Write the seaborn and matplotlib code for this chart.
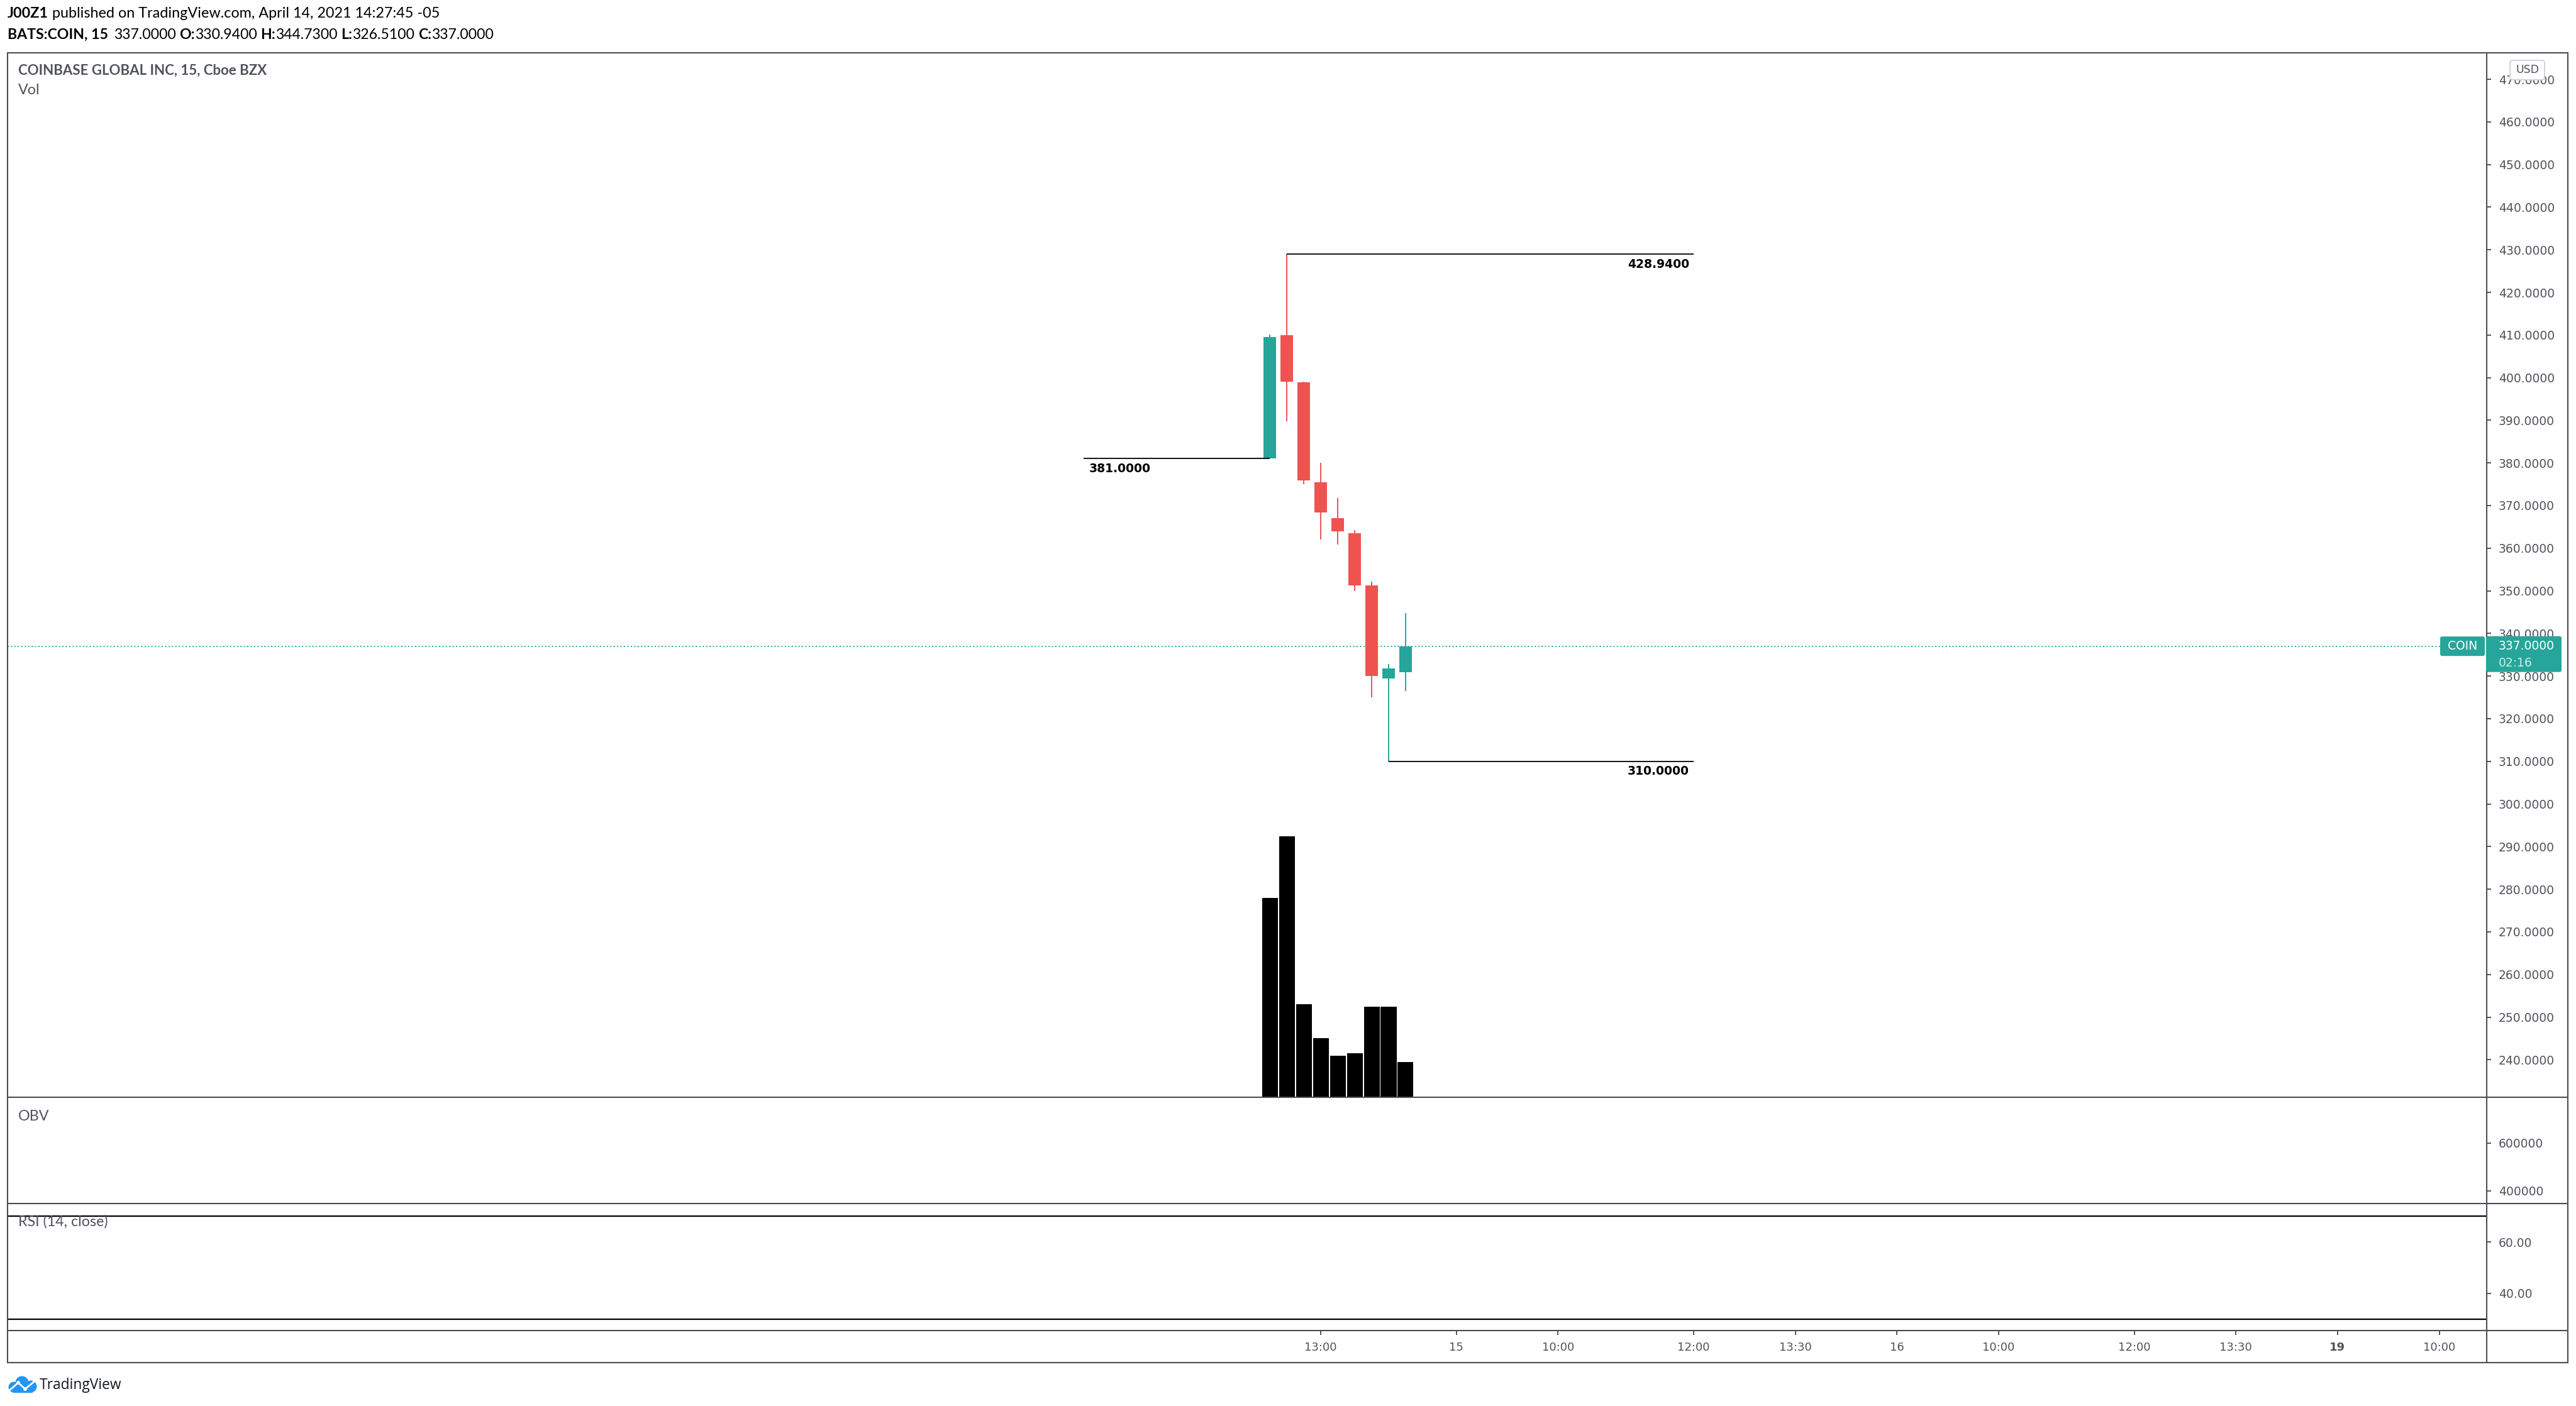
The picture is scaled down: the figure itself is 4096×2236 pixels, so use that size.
import matplotlib
matplotlib.use("Agg")
import matplotlib.pyplot as plt
import seaborn as sns
import numpy as np
from matplotlib.lines import Line2D
from matplotlib.patches import Rectangle, FancyBboxPatch, Circle
from matplotlib.transforms import IdentityTransform
from matplotlib.ticker import FuncFormatter

# ---------------- data ----------------
bar_index = [0, 1, 2, 3, 4, 5, 6, 7, 8]          # 15-min bars from 12:15 (UTC-5)
opens  = [381.00, 410.00, 398.90, 375.40, 367.00, 363.50, 351.30, 329.50, 330.94]
highs  = [410.10, 428.94, 399.00, 380.00, 371.80, 364.30, 352.10, 332.90, 344.73]
lows   = [381.00, 389.80, 375.00, 362.00, 360.90, 350.00, 325.00, 310.00, 326.51]
closes = [409.60, 399.00, 375.90, 368.40, 364.00, 351.20, 330.00, 331.80, 337.00]
volumes = [610000, 800000, 285000, 181000, 127000, 135000, 278000, 278000, 108000]

level_values = [381.00, 428.94, 310.00]
level_start = [-11, 1, 7]
level_end = [0, 25, 25]
level_align = ["left", "right", "right"]

price_ticks = list(range(240, 471, 10))
obv_ticks = [400000, 600000]
rsi_ticks = [40, 60]
rsi_bands = [70, 30]
time_tick_index = [3, 11, 17, 25, 31, 37, 43, 51, 57, 63, 69]
time_tick_labels = ["13:00", "15", "10:00", "12:00", "13:30", "16",
                    "10:00", "12:00", "13:30", "19", "10:00"]
bold_time_labels = ["19"]
countdown = "02:16"
symbol = "COIN"

# ---------------- style ----------------
GREEN = "#26a69a"
RED = "#ef5350"
AXC = "#50535e"
LINEC = "#4a4d57"

sns.set_theme(style="white")
plt.rcParams["font.family"] = ["DejaVu Sans"]

W, H = 4096, 2236
fig = plt.figure(figsize=(W / 100, H / 100), dpi=100, facecolor="white")

L, RP, R = 12, 3954, 4083
TOP, MB, OB, RB, BOT = 84, 1745, 1914, 2116, 2167


def add_axes_px(x0, y0, x1, y1):
    return fig.add_axes([x0 / W, 1 - y1 / H, (x1 - x0) / W, (y1 - y0) / H])


ax = add_axes_px(L, TOP, RP, MB)
ax_obv = add_axes_px(L, MB, RP, OB)
ax_rsi = add_axes_px(L, OB, RP, RB)

# volume (seaborn) on twin axis behind candles
vax = ax.twinx()
sns.barplot(x=bar_index, y=volumes, native_scale=True, color="black",
            saturation=1, width=0.93, linewidth=0, errorbar=None, ax=vax)
vax.set_ylim(0, max(volumes) * 4.0)
vax.set_yticks([])
vax.set_xlabel("")
vax.set_ylabel("")
vax.set_zorder(ax.get_zorder() - 1)
ax.patch.set_visible(False)

# candles
o = np.array(opens); c = np.array(closes)
cols = [GREEN if cc >= oo else RED for oo, cc in zip(opens, closes)]
ax.vlines(bar_index, lows, highs, colors=cols, lw=1.4, zorder=2)
ax.bar(bar_index, np.maximum(np.abs(c - o), 0.3), bottom=np.minimum(o, c),
       width=0.74, color=cols, linewidth=0, zorder=3)

# horizontal level drawings
ax.hlines(level_values, level_start, level_end, colors="black", lw=1.3, zorder=4)
for v, s, e, al in zip(level_values, level_start, level_end, level_align):
    if al == "left":
        ax.annotate(f"{v:.4f}", (s, v), xytext=(6, -11.5), textcoords="offset points",
                    ha="left", va="center", fontsize=13.5, fontweight="bold", color="black")
    else:
        ax.annotate(f"{v:.4f}", (e, v), xytext=(-5, -11.5), textcoords="offset points",
                    ha="right", va="center", fontsize=13.5, fontweight="bold", color="black")

# last price dotted line
ax.axhline(closes[-1], color=GREEN, lw=1.4, ls=(0, (1, 1.8)), zorder=1)

ax.set_xlim(-74.5, 71.8)
ax.set_ylim(231.2, 476.2)
ax.set_yticks(price_ticks)
ax.yaxis.set_major_formatter(FuncFormatter(lambda v, p: f"{v:.4f}"))
ax.set_xticks([])

ax_obv.set_xlim(-74.5, 71.8)
ax_obv.set_ylim(347000, 792000)
ax_obv.set_yticks(obv_ticks)
ax_obv.yaxis.set_major_formatter(FuncFormatter(lambda v, p: f"{v:.0f}"))
ax_obv.set_xticks([])

ax_rsi.set_xlim(-74.5, 71.8)
ax_rsi.set_ylim(25.6, 74.9)
ax_rsi.set_yticks(rsi_ticks)
ax_rsi.yaxis.set_major_formatter(FuncFormatter(lambda v, p: f"{v:.2f}"))
for b in rsi_bands:
    ax_rsi.axhline(b, color="black", lw=1.6)
ax_rsi.set_xticks(time_tick_index, labels=time_tick_labels)
ax_rsi.tick_params(axis="x", bottom=True, direction="out", length=5, width=1.4,
                   color=AXC, labelcolor=AXC, labelsize=13, pad=8)
for t in ax_rsi.get_xticklabels():
    if t.get_text() in bold_time_labels:
        t.set_fontweight("bold")

for a in (ax, ax_obv, ax_rsi):
    a.yaxis.tick_right()
    a.tick_params(axis="y", right=True, left=False, direction="out", length=5,
                  width=1.4, color=AXC, labelcolor=AXC, labelsize=13.5, pad=8.6)
    a.set_facecolor("none")
    a.grid(False)
for a in (ax, ax_obv, ax_rsi, vax):
    for s in a.spines.values():
        s.set_visible(False)


# ---------------- frame lines ----------------
def hline_px(x0, x1, y, color=LINEC, lw=1.5):
    fig.add_artist(Line2D([x0 / W, x1 / W], [1 - y / H, 1 - y / H],
                          transform=fig.transFigure, color=color, lw=lw))


def vline_px(x, y0, y1, color=LINEC, lw=1.5):
    fig.add_artist(Line2D([x / W, x / W], [1 - y0 / H, 1 - y1 / H],
                          transform=fig.transFigure, color=color, lw=lw))


fig.add_artist(Rectangle((L / W, 1 - BOT / H), (R - L) / W, (BOT - TOP) / H,
                         transform=fig.transFigure, fill=False, ec=LINEC, lw=1.5))
vline_px(RP, TOP, BOT)
for yy in (MB, OB, RB):
    hline_px(L, R, yy)

# ---------------- price labels on axis ----------------
ID = IdentityTransform()
yd = ax.transData.transform((0, closes[-1]))[1]   # display y (from bottom)
fig.add_artist(FancyBboxPatch((3880, yd - 15.5), 71, 31,
                              boxstyle="round,pad=0,rounding_size=3",
                              transform=ID, fc=GREEN, ec="none", zorder=5))
fig.text(3915.5, yd, symbol, transform=ID, ha="center", va="center",
         fontsize=13.5, color="white", zorder=6)
fig.add_artist(FancyBboxPatch((3953, yd - 41), 120, 57,
                              boxstyle="round,pad=0,rounding_size=3",
                              transform=ID, fc=GREEN, ec="none", zorder=5))
fig.text(3973, yd, f"{closes[-1]:.4f}", transform=ID, ha="left", va="center",
         fontsize=13.5, color="white", zorder=6)
fig.text(3973, yd - 27, countdown, transform=ID, ha="left", va="center",
         fontsize=13.5, color="#cdebe7", zorder=6)

# USD badge
fig.add_artist(FancyBboxPatch((3991, H - 127), 55, 31,
                              boxstyle="round,pad=0,rounding_size=4",
                              transform=ID, fc="white", ec="#c9ccd4", lw=1.2, zorder=5))
fig.text(4018.5, H - 111.5, "USD", transform=ID, ha="center", va="center",
         fontsize=12.5, color=AXC, zorder=6)

# ---------------- header texts ----------------
renderer = fig.canvas.get_renderer()


def draw_runs(x, y, parts, size, family, color):
    arts = []
    cx = x
    sp = 0.25 * size * 100 / 72
    for text, bold, gap in parts:
        cx += gap * sp
        t = fig.text(cx, H - y, text, transform=ID, fontsize=size, family=family,
                     fontweight="bold" if bold else "normal", color=color,
                     ha="left", va="center")
        arts.append(t)
        cx += t.get_window_extent(renderer).width
    return arts, cx - x


def fit_runs(x, y, parts, target, family, color):
    arts, w = draw_runs(x, y, parts, 14, family, color)
    for a in arts:
        a.remove()
    size = 14 * target / w
    draw_runs(x, y, parts, size, family, color)
    return size


HF = ["Lato", "DejaVu Sans"]
fit_runs(12, 21, [("J00Z1", True, 0),
                  ("published on TradingView.com, April 14, 2021 14:27:45 -05", False, 1)],
         688, HF, "#000000")
fit_runs(12, 55, [("BATS:COIN, 15", True, 0),
                  (f"{closes[-1]:.4f}", False, 1.5),
                  ("O:", True, 1), (f"{opens[-1]:.4f}", False, 0),
                  ("H:", True, 1), (f"{highs[-1]:.4f}", False, 0),
                  ("L:", True, 1), (f"{lows[-1]:.4f}", False, 0),
                  ("C:", True, 1), (f"{closes[-1]:.4f}", False, 0)],
         777, HF, "#000000")
fit_runs(29, 112, [("COINBASE GLOBAL INC, 15, Cboe BZX", True, 0)], 397, HF, AXC)
s_lab = fit_runs(29, 1943, [("RSI (14, close)", False, 0)], 143, HF, AXC)
draw_runs(29, 143, [("Vol", False, 0)], s_lab, HF, AXC)
draw_runs(29, 1776, [("OBV", False, 0)], s_lab, HF, AXC)

# ---------------- TradingView logo ----------------
BLUE = "#2196f3"
for cx_, cy_, r_ in [(35, 2199, 10.5), (22, 2206, 8.5), (49, 2205, 9.5)]:
    fig.add_artist(Circle((cx_, H - cy_), r_, transform=ID, fc=BLUE, ec="none"))
fig.add_artist(Rectangle((20, H - 2215), 32, 10, transform=ID, fc=BLUE, ec="none"))
fig.add_artist(Line2D([14, 29, 40, 57], [H - 2212, H - 2199, H - 2209, H - 2195],
                      transform=ID, color="white", lw=2.0))
for px_, py_ in [(29, 2199), (40, 2209)]:
    fig.add_artist(Circle((px_, H - py_), 3, transform=ID, fc="white", ec="none"))
fit_runs(63, 2203, [("TradingView", False, 0)], 131, ["Open Sans", "DejaVu Sans"], "#131722")

fig.savefig("out.png", dpi=100, facecolor="white")
